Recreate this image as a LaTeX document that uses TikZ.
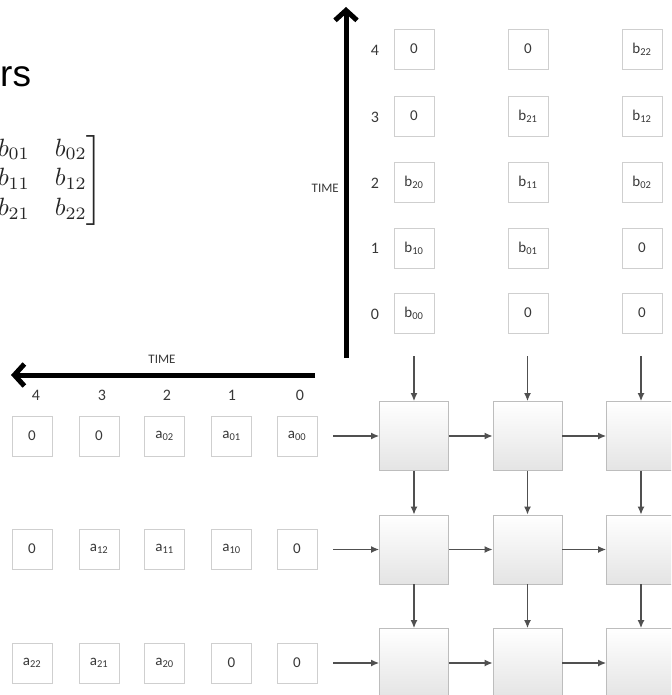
\documentclass[tikz,border=0pt]{standalone}
\usepackage{amsmath}
\usepackage{fontspec}
\newfontfamily\carl{Carlito}
\newfontfamily\arialf{Liberation Sans}
\usetikzlibrary{arrows.meta,shadings}
\definecolor{boxline}{HTML}{CFCFCF}
\definecolor{peline}{HTML}{BDBDBD}
\definecolor{pebot}{HTML}{E4E4E4}
\definecolor{flow}{HTML}{505050}
\definecolor{txt}{HTML}{383838}
\begin{document}
\begin{tikzpicture}[x=1pt,y=-1pt,
  inbox/.style={draw=boxline,line width=0.9,fill=white,minimum width=40,minimum height=40,inner sep=0,font=\carl\fontsize{15}{17}\selectfont,text=txt},
  pebox/.style={draw=peline,line width=0.9,top color=white,bottom color=pebot,minimum size=69,inner sep=0},
  flowarrow/.style={draw=flow,line width=1.2,-{Latex[length=8,width=7]}},
  timearrow/.style={draw=black,line width=5,-{Straight Barb[length=10,width=22]}},
  tnum/.style={font=\carl\fontsize{16}{18}\selectfont,text=txt,inner sep=0},
  timelbl/.style={font=\carl\fontsize{13}{15}\selectfont,text=txt,inner sep=0}]
\useasboundingbox (0,0) rectangle (671,695);
\clip (0,0) rectangle (671,695);

% title fragment and matrix fragment
\node[anchor=base west,inner sep=0,font=\arialf\fontsize{37}{40}\selectfont] (title) at (0,87) {rs};
\node[anchor=east,inner sep=0,scale=2.5,text=black!85] (mat) at (104,180)
  {$\left.\begin{matrix} b_{01} & b_{02}\\ b_{11} & b_{12}\\ b_{21} & b_{22}\end{matrix}\right]$};

% time axes
\coordinate (vbot) at (346,358);
\coordinate (vtop) at (346,7);
\draw[timearrow] (vbot) -- (vtop);
\coordinate (hright) at (315,375);
\coordinate (hleft) at (11,375);
\draw[timearrow] (hright) -- (hleft);
\node[timelbl,anchor=east] (vtime) at (339,188) {TIME};
\node[timelbl] (htime) at (162,359) {TIME};

% vertical time numbers
\foreach \t/\y in {0/314,1/248,2/183,3/117,4/50}
  \node[tnum] (vt\t) at (375,\y) {\t};
% horizontal time numbers
\foreach \t/\x in {0/300,1/232,2/167,3/102,4/36}
  \node[tnum] (ht\t) at (\x,395) {\t};

% b inputs
\foreach \c/\x/\la/\lb/\lc/\ld/\le in {
  0/414/b\textsubscript{00}/b\textsubscript{10}/b\textsubscript{20}/0/0,
  1/528/0/b\textsubscript{01}/b\textsubscript{11}/b\textsubscript{21}/0,
  2/642/0/0/b\textsubscript{02}/b\textsubscript{12}/b\textsubscript{22}}{
  \node[inbox] (b-\c-0) at (\x,313) {\la};
  \node[inbox] (b-\c-1) at (\x,248) {\lb};
  \node[inbox] (b-\c-2) at (\x,182) {\lc};
  \node[inbox] (b-\c-3) at (\x,116) {\ld};
  \node[inbox] (b-\c-4) at (\x,49) {\le};
}

% a inputs
\foreach \r/\y/\la/\lb/\lc/\ld/\le in {
  0/436/a\textsubscript{00}/a\textsubscript{01}/a\textsubscript{02}/0/0,
  1/549/0/a\textsubscript{10}/a\textsubscript{11}/a\textsubscript{12}/0,
  2/663/0/0/a\textsubscript{20}/a\textsubscript{21}/a\textsubscript{22}}{
  \node[inbox] (a-\r-0) at (297,\y) {\la};
  \node[inbox] (a-\r-1) at (231.5,\y) {\lb};
  \node[inbox] (a-\r-2) at (164.5,\y) {\lc};
  \node[inbox] (a-\r-3) at (99,\y) {\ld};
  \node[inbox] (a-\r-4) at (32,\y) {\le};
}

% processing elements
\foreach \r/\y in {0/436,1/549.5,2/663}
  \foreach \c/\x in {0/414,1/527.5,2/641}
    \node[pebox] (pe-\r-\c) at (\x,\y) {};

% input arrows from top
\foreach \c/\x in {0/414,1/527.5,2/641}{
  \coordinate (tin\c) at (\x,356);
  \draw[flowarrow] (tin\c) -- (pe-0-\c.north);
}
% input arrows from left
\foreach \r/\y in {0/436,1/549.5,2/663}{
  \coordinate (lin\r) at (333,\y);
  \draw[flowarrow] (lin\r) -- (pe-\r-0.west);
}
% internal arrows
\foreach \r in {0,1,2}{
  \draw[flowarrow] (pe-\r-0.east) -- (pe-\r-1.west);
  \draw[flowarrow] (pe-\r-1.east) -- (pe-\r-2.west);
}
\foreach \c in {0,1,2}{
  \draw[flowarrow] (pe-0-\c.south) -- (pe-1-\c.north);
  \draw[flowarrow] (pe-1-\c.south) -- (pe-2-\c.north);
}
\end{tikzpicture}
\end{document}
